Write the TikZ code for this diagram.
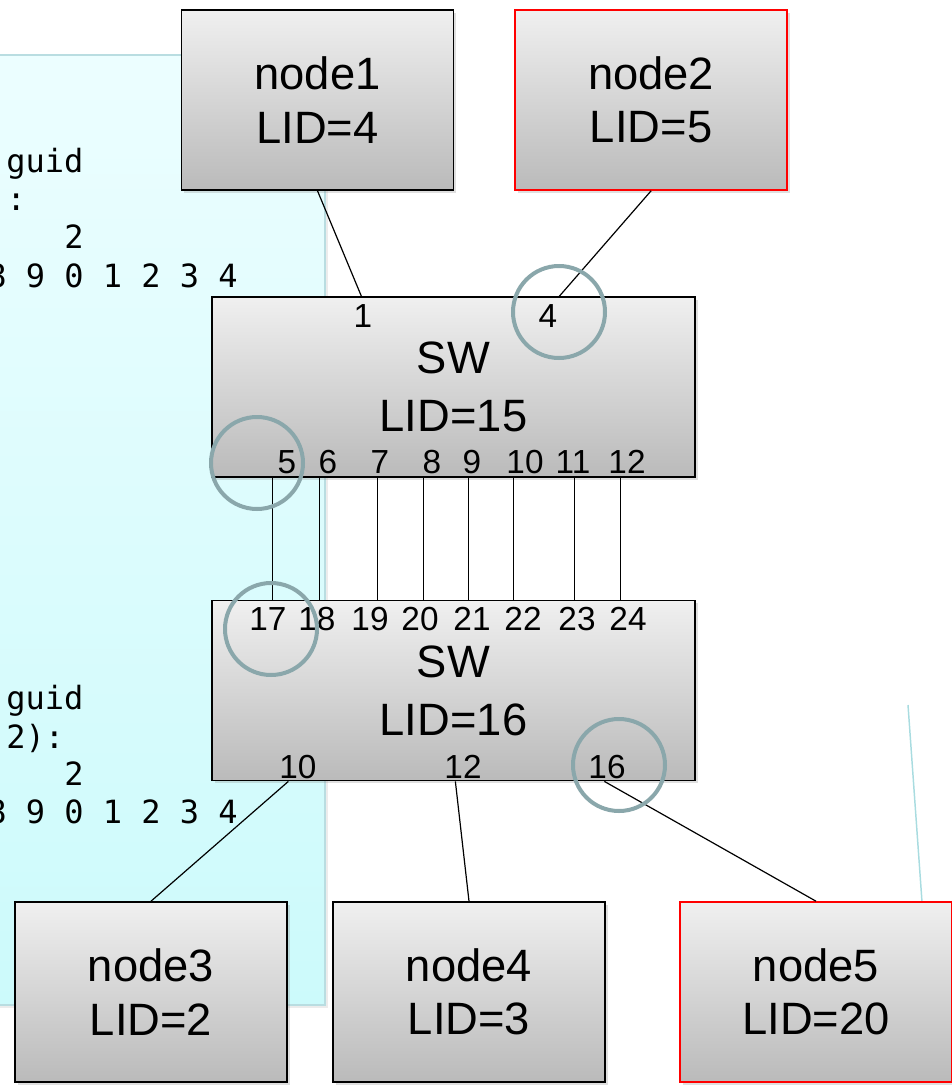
\documentclass[tikz,border=0pt]{standalone}
\usepackage{fontspec}
\setmainfont{Liberation Sans}
\newfontfamily\guidfont{DejaVu Sans Mono}
\usetikzlibrary{positioning, calc, shadows}
\definecolor{ringgray}{HTML}{8AA7AB}
\definecolor{paneltop}{HTML}{ECFEFF}
\definecolor{panelbot}{HTML}{CCFAFB}
\definecolor{panelline}{HTML}{B9DDE1}
\definecolor{leadcyan}{HTML}{A9DCE0}
\tikzset{
host/.style={draw=black, line width=1.2pt, top color=black!6, bottom color=black!27,
  minimum width=204pt, minimum height=135pt, align=center,
  font=\fontsize{34}{40}\selectfont,
  drop shadow={opacity=0.25, shadow xshift=2pt, shadow yshift=-2pt}}, % grey end nodes
lost/.style={host, draw=red}, % nodes framed in red
switch/.style={host, minimum width=362pt, font=\fontsize{34}{43.5}\selectfont},
port/.style={font=\fontsize{25}{30}\selectfont, inner sep=0pt, anchor=base}, % port numbers
link/.style={line width=0.9pt},
hilite/.style={circle, draw=ringgray, line width=3pt, minimum size=69pt, inner sep=0pt},
mono/.style={font=\guidfont\fontsize{24}{28}\selectfont, inner sep=0pt, anchor=base west},
panel/.style={draw=panelline, line width=1.2pt, top color=paneltop, bottom color=panelbot,
  drop shadow={opacity=0.15, shadow xshift=2pt, shadow yshift=-2pt}},
}
\begin{document}
\begin{tikzpicture}[x=0.75pt, y=-0.75pt]
\useasboundingbox (0,0) rectangle (951,1088);
% the guid table behind the diagram
\draw[panel] (-30,55) rectangle (325,1005);
\node[mono] (guidA) at (6,172) {guid};
\node[mono] (portsA) at (-13,210) {):};
\node[mono] (tensA) at (64,248) {2};
\node[mono] (colsA) at (-13,287) {8 9 0 1 2 3 4};
\node[mono] (guidB) at (6,709) {guid};
\node[mono] (portsB) at (6,748) {2):};
\node[mono] (tensB) at (64,785) {2};
\node[mono] (colsB) at (-13,823) {8 9 0 1 2 3 4};
\coordinate (leadtop) at (908,705);
\coordinate (leadend) at (922,902);
\draw[leadcyan, line width=1.1pt] (leadtop) -- (leadend);

% nodes and switches
\node[host] (node1) at (317.5,100) {node1\\LID=4};
\node[lost, right=45pt of node1] (node2) {node2\\LID=5};
\node[switch] (sw15) at (453.5,387) {SW\\LID=15};
\node[switch, below=91.5pt of sw15] (sw16) {SW\\LID=16};
\node[host] (node3) at (151,992) {node3\\LID=2};
\node[host] (node4) at (469,992) {node4\\LID=3};
\node[lost] (node5) at (816,992) {node5\\LID=20};

% links
\draw[link] (node1.south) -- ($(sw15.north west)+(150,0)$);
\draw[link] (node2.south) -- ($(sw15.north west)+(348,0)$);
\foreach \dx in {61,108,166,212,257,302,363,409}
  \draw[link] ($(sw15.south west)+(\dx,0)$) -- ($(sw16.north west)+(\dx,0)$);
\draw[link] ($(sw16.south west)+(77,0)$) -- (node3.north);
\draw[link] ($(sw16.south west)+(244,0)$) -- (node4.north);
\draw[link] ($(sw16.south west)+(393,0)$) -- (node5.north);

% port numbers
\node[port] (p1) at (363,327) {1};
\node[port] (p4) at (548,327) {4};
\foreach \x/\n in {287/5, 328/6, 380/7, 432/8, 472/9, 525/10, 573/11, 627/12}
  \node[port] (a\n) at (\x,473) {\n};
\foreach \x/\n in {268/17, 317/18, 370/19, 420/20, 472/21, 523/22, 577/23, 628/24}
  \node[port] (b\n) at (\x,630) {\n};
\node[port] (c10) at (298,778) {10};
\node[port] (c12) at (463,778) {12};
\node[port] (c16) at (607,778) {16};

% rings round the ports in question
\node[hilite] (ring4) at (559,312) {};
\node[hilite] (ring5) at (257,463) {};
\node[hilite] (ring17) at (271,629) {};
\node[hilite] (ring16) at (619,765) {};
\end{tikzpicture}
\end{document}
